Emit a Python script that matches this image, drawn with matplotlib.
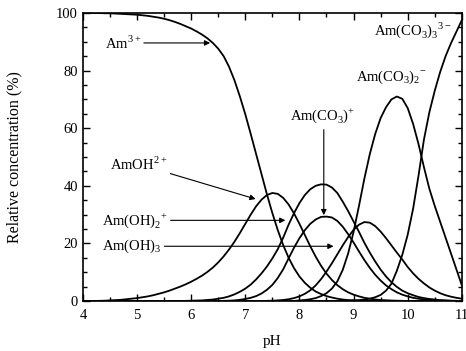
import numpy as np
import matplotlib
matplotlib.use("Agg")
import matplotlib.pyplot as plt
from matplotlib.ticker import MultipleLocator

plt.rcParams['font.family'] = ['Liberation Serif', 'DejaVu Serif']
plt.rcParams['mathtext.fontset'] = 'custom'
plt.rcParams['mathtext.rm'] = 'Liberation Serif'

# pH grid, 0.1 steps from 4 to 11 (71 points)
ph = np.round(np.arange(4.0, 11.01, 0.1), 1)

# relative concentrations (%), one value per pH step
am3 = [100, 100, 100, 100, 99.9, 99.9, 99.8, 99.7, 99.6, 99.5,
       99.4, 99.2, 99.0, 98.7, 98.4, 98.0, 97.5, 96.9, 96.2, 95.4,
       94.6, 93.6, 92.5, 91.2, 89.6, 87.6, 85.0, 81.3, 76.6, 71.0,
       64.8, 58.0, 51.0, 44.0, 37.0, 30.5, 24.6, 19.4, 15.0, 11.4,
       8.5, 6.3, 4.6, 3.3, 2.4, 1.7, 1.2, 0.8, 0.5, 0.3,
       0.2, 0.1, 0.05, 0, 0, 0, 0, 0, 0, 0,
       0, 0, 0, 0, 0, 0, 0, 0, 0, 0, 0]
amoh = [0, 0, 0, 0.05, 0.1, 0.2, 0.3, 0.4, 0.6, 0.8,
        1.0, 1.3, 1.6, 2.0, 2.5, 3.0, 3.6, 4.3, 5.0, 5.8,
        6.7, 7.7, 8.8, 10.1, 11.6, 13.4, 15.5, 17.9, 20.6, 23.6,
        26.8, 30.0, 32.9, 35.2, 36.8, 37.5, 37.2, 35.8, 33.5, 30.4,
        26.8, 22.9, 19.0, 15.4, 12.2, 9.5, 7.3, 5.5, 4.1, 3.0,
        2.2, 1.6, 1.1, 0.8, 0.5, 0.35, 0.25, 0.15, 0.1, 0.05,
        0, 0, 0, 0, 0, 0, 0, 0, 0, 0, 0]
amoh2 = [0, 0, 0, 0, 0, 0, 0, 0, 0, 0,
         0, 0, 0, 0, 0, 0, 0, 0, 0, 0.05,
         0.1, 0.15, 0.2, 0.35, 0.5, 0.8, 1.1, 1.6, 2.3, 3.2,
         4.3, 5.7, 7.5, 9.6, 12.0, 14.8, 18.0, 22.0, 26.5, 30.5,
         34.0, 36.8, 38.8, 40.0, 40.5, 40.4, 39.4, 37.5, 34.5, 31.2,
         27.6, 24.0, 20.2, 16.8, 13.7, 10.9, 8.5, 6.5, 4.9, 3.6,
         2.7, 2.0, 1.4, 1.0, 0.7, 0.5, 0.3, 0.2, 0.1, 0.05, 0]
amco3 = [0, 0, 0, 0, 0, 0, 0, 0, 0, 0,
         0, 0, 0, 0, 0, 0, 0, 0, 0, 0,
         0, 0, 0, 0, 0, 0, 0.05, 0.1, 0.2, 0.4,
         0.7, 1.1, 1.7, 2.6, 3.9, 5.6, 8.0, 11.0, 14.8, 18.5,
         21.8, 24.6, 26.8, 28.3, 29.2, 29.3, 29.0, 27.8, 25.8, 23.2,
         20.3, 17.2, 14.2, 11.5, 9.1, 7.1, 5.4, 4.1, 3.0, 2.2,
         1.6, 1.1, 0.8, 0.5, 0.35, 0.2, 0.15, 0.1, 0.05, 0, 0]
amoh3 = [0, 0, 0, 0, 0, 0, 0, 0, 0, 0,
         0, 0, 0, 0, 0, 0, 0, 0, 0, 0,
         0, 0, 0, 0, 0, 0, 0, 0, 0, 0,
         0, 0, 0, 0, 0.05, 0.1, 0.2, 0.35, 0.6, 1.0,
         1.6, 2.5, 3.7, 5.4, 7.6, 10.2, 13.1, 16.2, 19.3, 22.2,
         24.7, 26.5, 27.4, 27.2, 26.0, 24.1, 21.8, 19.3, 16.8, 14.4,
         11.8, 9.6, 7.7, 6.1, 4.7, 3.6, 2.7, 2.0, 1.5, 1.1, 0.8]
amco3_2 = [0, 0, 0, 0, 0, 0, 0, 0, 0, 0,
           0, 0, 0, 0, 0, 0, 0, 0, 0, 0,
           0, 0, 0, 0, 0, 0, 0, 0, 0, 0,
           0, 0, 0, 0, 0, 0, 0, 0, 0, 0,
           0.2, 0.35, 0.6, 1.0, 1.7, 2.7, 4.3, 6.8, 10.8, 16.5,
           24.0, 33.0, 42.5, 51.0, 58.0, 63.5, 67.3, 70.0, 71.0, 70.2,
           67.0, 61.5, 54.5, 46.5, 39.0, 33.0, 27.5, 22.0, 16.5, 11.0, 5.5]
amco3_3 = [0, 0, 0, 0, 0, 0, 0, 0, 0, 0,
           0, 0, 0, 0, 0, 0, 0, 0, 0, 0,
           0, 0, 0, 0, 0, 0, 0, 0, 0, 0,
           0, 0, 0, 0, 0, 0, 0, 0, 0, 0,
           0, 0, 0, 0, 0, 0, 0, 0, 0.05, 0.1,
           0.2, 0.3, 0.5, 0.8, 1.3, 2.1, 3.6, 6.0, 10.5, 16.0,
           23.0, 32.0, 43.5, 56.0, 65.5, 73.0, 79.5, 85.0, 89.5, 93.5, 97.5]

fig = plt.figure(figsize=(4.66, 3.51), dpi=100)
ax = fig.add_axes([0.178, 0.1425, 0.813, 0.8205])

for s in [am3, amoh, amoh2, amco3, amoh3, amco3_2, amco3_3]:
    ax.plot(ph, s, color='black', lw=1.3, solid_joinstyle='round')

ax.set_xlim(4, 11)
ax.set_ylim(0, 100)
ax.xaxis.set_major_locator(MultipleLocator(1))
ax.xaxis.set_minor_locator(MultipleLocator(0.5))
ax.yaxis.set_major_locator(MultipleLocator(20))
ax.yaxis.set_minor_locator(MultipleLocator(5))
ax.tick_params(which='both', direction='in', top=True, right=True,
               labelsize=10.5, width=1)
ax.tick_params(which='major', length=5)
ax.tick_params(axis='x', which='major', pad=6)
ax.tick_params(which='minor', length=3)
for sp in ax.spines.values():
    sp.set_linewidth(1.2)

ax.set_xlabel('pH', fontsize=11, labelpad=9)
ax.set_ylabel('Relative concentration (%)', fontsize=11.5, labelpad=24)

arrow = dict(arrowstyle='-|>', color='black', lw=0.8,
             mutation_scale=8, shrinkA=0, shrinkB=0)
fs = 10.5
ax.annotate(r'Am$^{3+}$', xy=(6.35, 89.6), xytext=(4.4, 89.6),
            fontsize=fs, va='center', arrowprops=arrow)
ax.annotate(r'AmOH$^{2+}$', xy=(7.19, 35.4), xytext=(4.5, 47.5),
            fontsize=fs, va='center', arrowprops=arrow)
ax.annotate(r'Am(OH)$_2$$^{+}$', xy=(7.74, 28.0), xytext=(4.35, 28.0),
            fontsize=fs, va='center', arrowprops=arrow)
ax.annotate(r'Am(OH)$_3$', xy=(8.63, 19.0), xytext=(4.35, 19.0),
            fontsize=fs, va='center', arrowprops=arrow)
ax.text(8.43, 64.5, r'Am(CO$_3$)$^{+}$', fontsize=fs,
        ha='center', va='center')
ax.annotate('', xy=(8.45, 29.8), xytext=(8.45, 59.5), arrowprops=arrow)
ax.text(9.05, 77.5, r'Am(CO$_3$)$_2$$^{-}$', fontsize=fs, va='center')
ax.text(9.37, 94.0, r'Am(CO$_3$)$_3$$^{3-}$', fontsize=fs, va='center')

fig.savefig('out.png', dpi=100)
